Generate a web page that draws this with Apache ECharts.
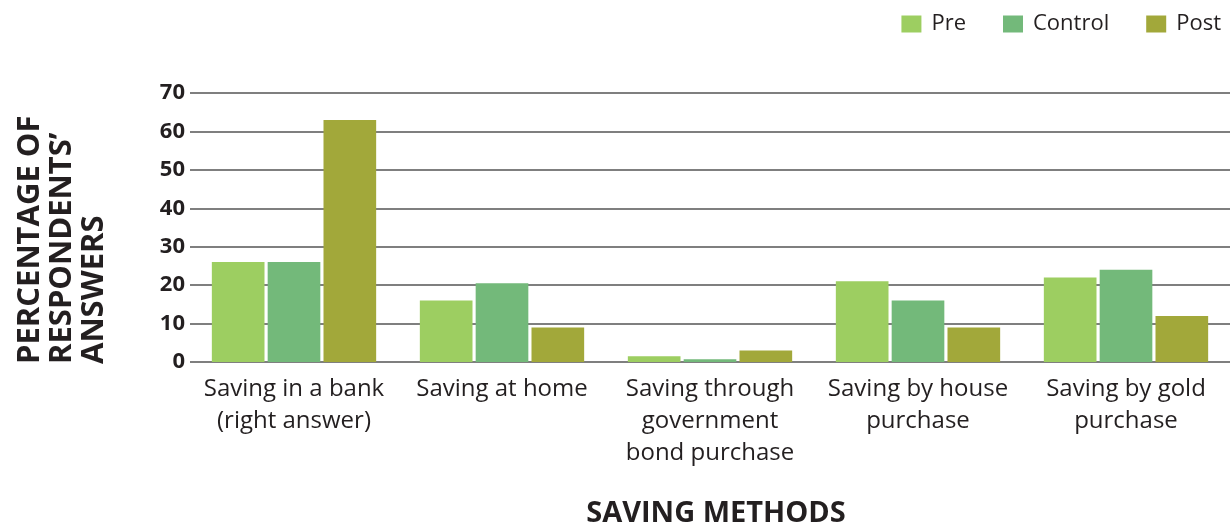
<!DOCTYPE html>
<html>
<head>
<meta charset="utf-8">
<script src="https://cdn.jsdelivr.net/npm/echarts@6/dist/echarts.min.js"></script>
<style>
html,body{margin:0;padding:0;background:#fff;}
#chart{width:1232px;height:530px;}
</style>
</head>
<body>
<div id="chart"></div>
<script>
const categories = [
  "Saving in a bank\n(right answer)",
  "Saving at home",
  "Saving through\ngovernment\nbond purchase",
  "Saving by house\npurchase",
  "Saving by gold\npurchase"
];
const preValues = [26, 16, 1.5, 21, 22];
const controlValues = [26, 20.5, 0.7, 16, 24];
const postValues = [63, 9, 3, 9, 12];
const seriesNames = ["Pre", "Control", "Post"];
const yTicks = [0, 10, 20, 30, 40, 50, 60, 70];

const FONT = "'Open Sans', Lato, sans-serif";
const TXT = "#231f20";
const colors = ["#9dce61", "#73b97a", "#a2a83a"];

const chart = echarts.init(document.getElementById('chart'));
chart.setOption({
  animation: false,
  backgroundColor: "#fff",
  textStyle: { fontFamily: FONT, color: TXT },
  color: colors,
  legend: {
    right: 6,
    top: 8,
    itemWidth: 20,
    itemHeight: 17,
    itemGap: 37,
    icon: 'rect',
    textStyle: { fontSize: 22, color: TXT, fontFamily: FONT, padding: [0, 0, 0, 5] },
    data: seriesNames
  },
  grid: { left: 190, right: 2, top: 93, bottom: 168, containLabel: false, outerBoundsMode: 'none' },
  xAxis: {
    type: 'category',
    data: categories,
    axisLine: { show: false },
    axisTick: { show: false },
    axisLabel: { fontSize: 24, color: TXT, fontFamily: FONT, lineHeight: 32, margin: 11, interval: 0 },
    name: "SAVING METHODS",
    nameLocation: 'middle',
    nameGap: 137,
    nameTextStyle: { fontSize: 29, fontWeight: 'bold', color: TXT, fontFamily: FONT, padding: [0, 0, 0, 12] }
  },
  yAxis: {
    type: 'value',
    min: 0,
    max: 70,
    interval: 10,
    axisLine: { show: false },
    axisTick: { show: false },
    axisLabel: {
      fontSize: 22, fontWeight: 'bold', color: TXT, fontFamily: FONT, margin: 5,
      formatter: v => yTicks.includes(v) ? String(v) : ''
    },
    splitLine: { lineStyle: { color: '#555', width: 1.5 } }
  },
  series: seriesNames.map((n, i) => ({
    name: n,
    type: 'bar',
    data: [preValues, controlValues, postValues][i],
    barGap: '6%',
    barCategoryGap: '21%',
    itemStyle: { color: colors[i] }
  })),
  graphic: [{
    type: 'text',
    x: 14,
    y: 364,
    rotation: Math.PI / 2,
    style: {
      text: "PERCENTAGE OF\nRESPONDENTS’\nANSWERS",
      fontSize: 31,
      fontWeight: 'bold',
      fontFamily: FONT,
      fill: TXT,
      lineHeight: 32,
      align: 'left',
      verticalAlign: 'top'
    }
  }]
});
</script>
</body>
</html>
